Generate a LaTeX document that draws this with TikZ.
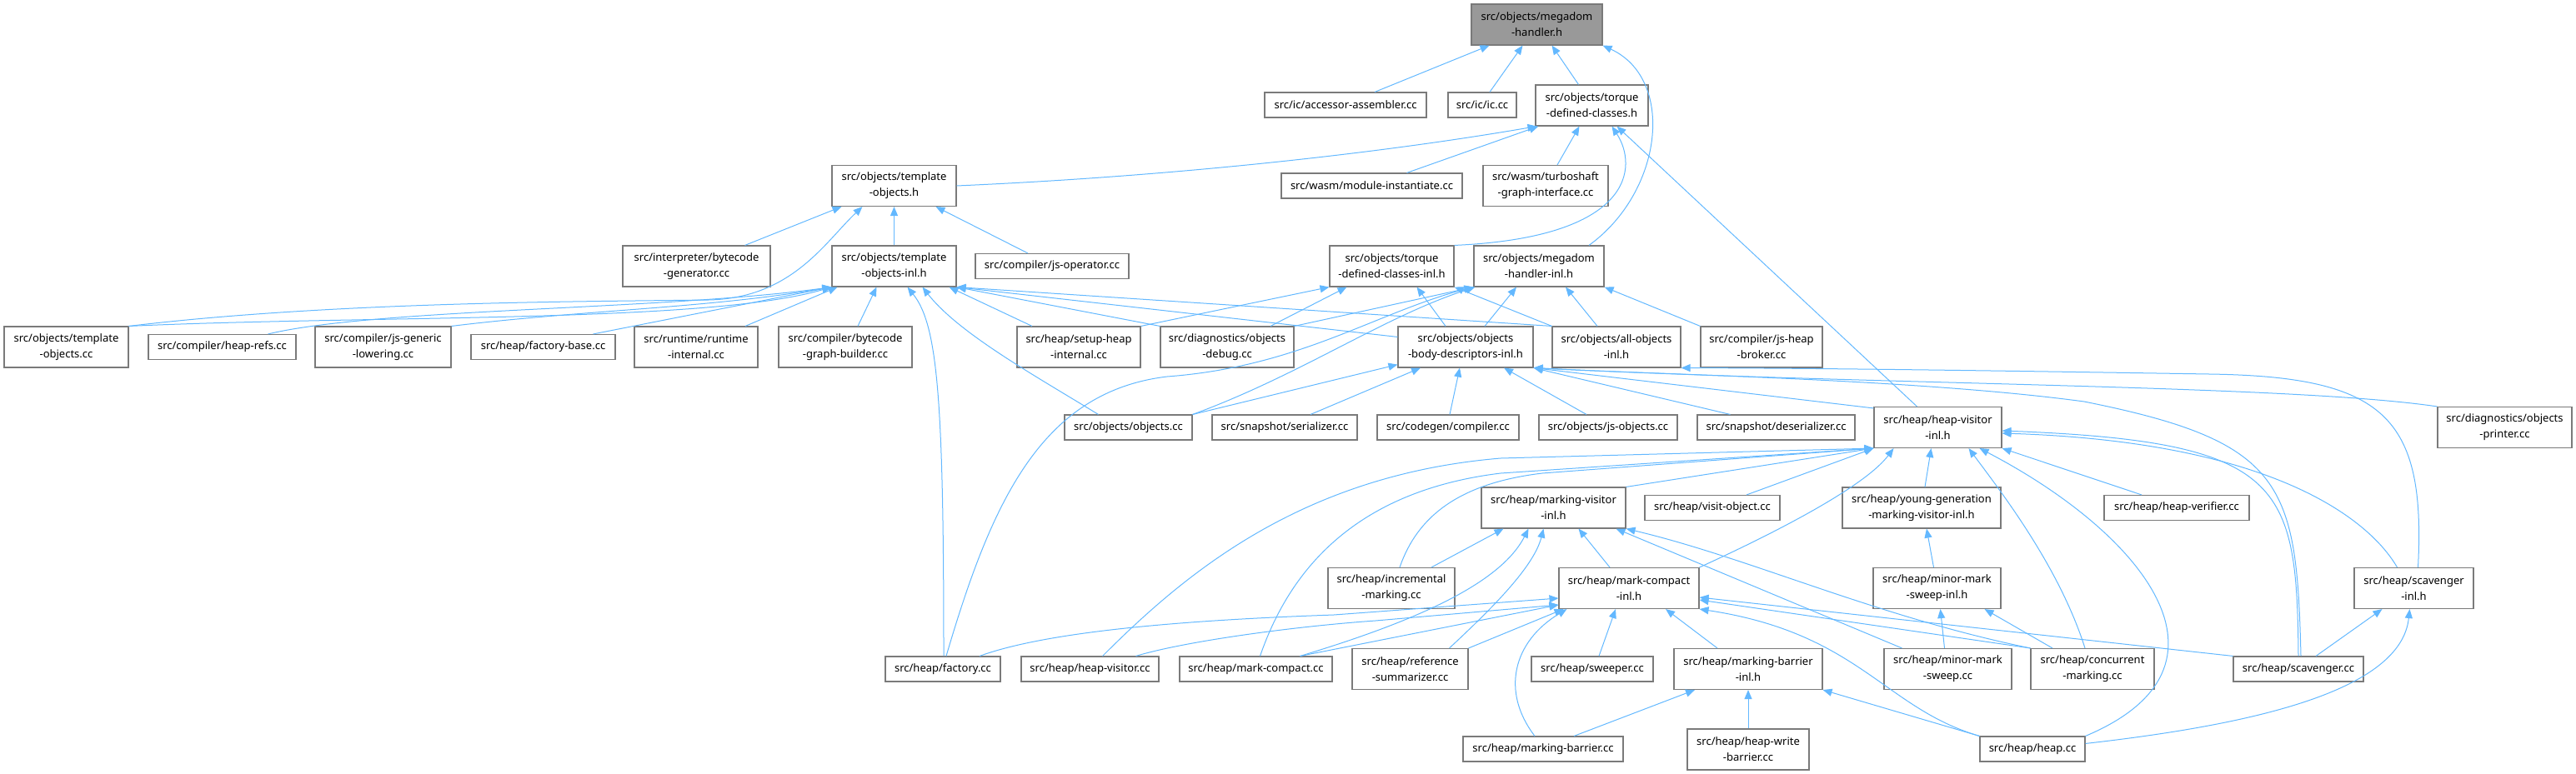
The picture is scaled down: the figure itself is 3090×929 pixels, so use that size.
\documentclass[tikz,border=0pt]{standalone}
\usepackage{fontspec}
\setmainfont{Noto Sans}
\usepackage{xcolor}
\usetikzlibrary{arrows.meta}

\definecolor{edgeblue}{HTML}{63B8FF}
\definecolor{boxgray}{HTML}{7A7A7A}
\definecolor{rootgray}{HTML}{999999}

\begin{document}
\begin{tikzpicture}[
    x=1pt, y=-1pt,
    font=\fontsize{13}{19}\selectfont,
    file/.style={rectangle, draw=boxgray, line width=1.1pt, fill=white, inner sep=0pt, align=center, minimum height=30pt},
    twoline/.style={minimum height=49pt},
    wd/.style={minimum width=#1pt},
    rootfile/.style={file, twoline, fill=rootgray},
    incl/.style={-{Triangle[length=11pt, width=9pt]}, draw=edgeblue, line width=1pt}
]
    \useasboundingbox (0,0) rectangle (3090,929);

    % Nodes
    \node[rootfile, wd=157] (mh) at (1843.5,29.5) {src/objects/megadom\\-handler.h};

    \node[file, wd=194] (aa) at (1614,126) {src/ic/accessor-assembler.cc};
    \node[file, wd=82] (ic) at (1778,126) {src/ic/ic.cc};
    \node[file, twoline, wd=135] (tdc) at (1909.5,126.5) {src/objects/torque\\-defined-classes.h};

    \node[file, twoline, wd=149] (toh) at (1072.5,223) {src/objects/template\\-objects.h};
    \node[file, wd=217] (mi) at (1645.5,223) {src/wasm/module-instantiate.cc};
    \node[file, twoline, wd=150] (tgi) at (1854,223) {src/wasm/turboshaft\\-graph-interface.cc};

    \node[file, twoline, wd=177] (bg) at (835.5,319.5) {src/interpreter/bytecode\\-generator.cc};
    \node[file, twoline, wd=149] (toi) at (1072.5,319.5) {src/objects/template\\-objects-inl.h};
    \node[file, wd=184] (jso) at (1262,319.5) {src/compiler/js-operator.cc};
    \node[file, twoline, wd=149] (tdci) at (1669.5,319.5) {src/objects/torque\\-defined-classes-inl.h};
    \node[file, twoline, wd=156] (mhi) at (1846,319.5) {src/objects/megadom\\-handler-inl.h};

    \node[file, twoline, wd=149] (toc) at (79.5,416.5) {src/objects/template\\-objects.cc};
    \node[file, wd=177] (hr) at (266.5,416.5) {src/compiler/heap-refs.cc};
    \node[file, twoline, wd=163] (jgl) at (459.5,416.5) {src/compiler/js-generic\\-lowering.cc};
    \node[file, wd=173] (fb) at (651.5,416.5) {src/heap/factory-base.cc};
    \node[file, twoline, wd=148] (ri) at (835,416.5) {src/runtime/runtime\\-internal.cc};
    \node[file, twoline, wd=160] (bgb) at (1014,416.5) {src/compiler/bytecode\\-graph-builder.cc};
    \node[file, twoline, wd=148] (shi) at (1294,416.5) {src/heap/setup-heap\\-internal.cc};
    \node[file, twoline, wd=160] (od) at (1472,416.5) {src/diagnostics/objects\\-debug.cc};
    \node[file, twoline, wd=162] (obd) at (1758,416.5) {src/objects/objects\\-body-descriptors-inl.h};
    \node[file, twoline, wd=154] (aoi) at (1939,416.5) {src/objects/all-objects\\-inl.h};
    \node[file, twoline, wd=146] (jhb) at (2113,416.5) {src/compiler/js-heap\\-broker.cc};

    \node[file, wd=153] (oc) at (1353.5,513) {src/objects/objects.cc};
    \node[file, wd=174] (ser) at (1541,513) {src/snapshot/serializer.cc};
    \node[file, wd=170] (cc) at (1737,513) {src/codegen/compiler.cc};
    \node[file, wd=166] (jo) at (1929,513) {src/objects/js-objects.cc};
    \node[file, wd=189] (des) at (2130.5,513) {src/snapshot/deserializer.cc};
    \node[file, twoline, wd=153] (hvi) at (2324.5,513) {src/heap/heap-visitor\\-inl.h};
    \node[file, twoline, wd=161] (op) at (3004.5,513) {src/diagnostics/objects\\-printer.cc};

    \node[file, twoline, wd=173] (mvi) at (1863.5,609.5) {src/heap/marking-visitor\\-inl.h};
    \node[file, wd=162] (vo) at (2054,609.5) {src/heap/visit-object.cc};
    \node[file, twoline, wd=190] (ygm) at (2305,609.5) {src/heap/young-generation\\-marking-visitor-inl.h};
    \node[file, wd=174] (hv) at (2611,609.5) {src/heap/heap-verifier.cc};

    \node[file, twoline, wd=152] (im) at (1669,706) {src/heap/incremental\\-marking.cc};
    \node[file, twoline, wd=168] (mci) at (1954,706) {src/heap/mark-compact\\-inl.h};
    \node[file, twoline, wd=153] (mmsi) at (2323.5,706) {src/heap/minor-mark\\-sweep-inl.h};
    \node[file, twoline, wd=143] (si) at (2895.5,706) {src/heap/scavenger\\-inl.h};

    \node[file, wd=138] (fac) at (1131,803) {src/heap/factory.cc};
    \node[file, wd=165] (hvc) at (1307.5,803) {src/heap/heap-visitor.cc};
    \node[file, wd=183] (mc) at (1506.5,803) {src/heap/mark-compact.cc};
    \node[file, twoline, wd=139] (rs) at (1691.5,803) {src/heap/reference\\-summarizer.cc};
    \node[file, wd=146] (sw) at (1910,803) {src/heap/sweeper.cc};
    \node[file, twoline, wd=178] (mbi) at (2097,803) {src/heap/marking-barrier\\-inl.h};
    \node[file, twoline, wd=153] (mms) at (2336.5,803) {src/heap/minor-mark\\-sweep.cc};
    \node[file, twoline, wd=148] (cm) at (2510,803) {src/heap/concurrent\\-marking.cc};
    \node[file, wd=156] (sc) at (2757,803) {src/heap/scavenger.cc};

    \node[file, wd=192] (mb) at (1851,899) {src/heap/marking-barrier.cc};
    \node[file, twoline, wd=146] (hwb) at (2097,899.5) {src/heap/heap-write\\-barrier.cc};
    \node[file, wd=126] (hp) at (2438,899) {src/heap/heap.cc};

    % Arrows into megadom-handler.h
    \draw[incl] ([xshift=35pt]aa.north) -- ([xshift=-57pt]mh.south);
    \draw[incl] ([xshift=9pt]ic.north) -- ([xshift=-17pt]mh.south);
    \draw[incl] ([xshift=-16pt]tdc.north) -- ([xshift=18pt]mh.south);
    \draw[incl] ([xshift=60pt]mhi.north) .. controls (1995,230) and (2010,95) .. (mh.south east);

    % Arrows into torque-defined-classes.h
    \draw[incl] (toh.east) .. controls (1400,212) and (1650,185) .. ([xshift=2pt]tdc.south west);
    \draw[incl] ([xshift=42pt]mi.north) -- ([xshift=4pt]tdc.south west);
    \draw[incl] ([xshift=14pt]tgi.north) -- ([xshift=-15pt]tdc.south);
    \draw[incl] (tdci.north east) .. controls (1960,285) and (1965,200) .. ([xshift=24pt]tdc.south);
    \draw[incl] ([xshift=-25pt]hvi.north) -- ([xshift=30pt]tdc.south);

    % Arrows into template-objects.h
    \draw[incl] ([xshift=58pt]bg.north) -- ([xshift=-63pt]toh.south);
    \draw[incl] (toi) -- (toh);
    \draw[incl] ([xshift=-29pt]jso.north) -- ([xshift=50pt]toh.south);
    \draw[incl] (toc.north east) .. controls (400,362) and (700,362) .. (850,360) .. controls (950,358) and (990,290) .. ([xshift=-38pt]toh.south);

    % Arrows into template-objects-inl.h
    \draw[incl] (toc.north east) .. controls (450,378) and (850,388) .. (toi.south west);
    \draw[incl] ([xshift=55pt]hr.north) .. controls (450,370) and (800,372) .. (toi.south west);
    \draw[incl] (jgl.north east) .. controls (700,372) and (850,370) .. (toi.south west);
    \draw[incl] ([xshift=60pt]fb.north) -- (toi.south west);
    \draw[incl] ([xshift=59pt]ri.north) -- ([xshift=-68pt]toi.south);
    \draw[incl] ([xshift=15pt]bgb.north) -- ([xshift=-21pt]toi.south);
    \draw[incl] ([xshift=1pt]fac.north) .. controls (1132,480) and (1125,390) .. ([xshift=16pt]toi.south);
    \draw[incl] ([xshift=-36pt]oc.north) .. controls (1240,450) and (1150,400) .. ([xshift=34pt]toi.south);
    \draw[incl] ([xshift=-56pt]shi.north) -- ([xshift=66pt]toi.south);
    \draw[incl] (od.north west) -- (toi.south east);
    \draw[incl] (aoi.north west) -- (toi.south east);
    \draw[incl] ([yshift=-13pt]obd.north west) -- (toi.south east);

    % Arrows into torque-defined-classes-inl.h
    \draw[incl] (shi.north east) -- (tdci.south west);
    \draw[incl] ([xshift=52pt]od.north) -- ([xshift=-54pt]tdci.south);
    \draw[incl] ([xshift=-24pt]obd.north) -- ([xshift=30pt]tdci.south);
    \draw[incl] (aoi.north west) -- (tdci.south east);

    % Arrows into megadom-handler-inl.h
    \draw[incl] (od.north east) -- (mhi.south west);
    \draw[incl] (oc.north east) .. controls (1560,450) and (1660,380) .. ([xshift=2pt]mhi.south west);
    \draw[incl] ([xshift=4pt]fac.north) .. controls (1190,600) and (1250,470) .. (1400,452) .. controls (1560,440) and (1650,375) .. (mhi.south west);
    \draw[incl] ([xshift=23pt]obd.north) -- ([xshift=-27pt]mhi.south);
    \draw[incl] ([xshift=-23pt]aoi.north) -- ([xshift=32pt]mhi.south);
    \draw[incl] (jhb.north west) -- (mhi.south east);

    % Arrows into objects-body-descriptors-inl.h
    \draw[incl] (oc.north east) -- ([yshift=4pt]obd.south west);
    \draw[incl] ([xshift=31pt]ser.north) -- ([xshift=-54pt]obd.south);
    \draw[incl] ([xshift=2pt]cc.north) -- ([xshift=-7pt]obd.south);
    \draw[incl] ([xshift=-26pt]jo.north) -- ([xshift=46pt]obd.south);
    \draw[incl] ([xshift=-55pt]des.north) -- (obd.south east);
    \draw[incl] ([yshift=-2pt]hvi.north west) -- (obd.south east);
    \draw[incl] (op.north west) .. controls (2750,462) and (2250,462) .. (obd.south east);
    \draw[incl] ([xshift=3pt]sc.north) .. controls (2755,580) and (2740,530) .. (2500,482) .. controls (2300,455) and (2000,450) .. (obd.south east);

    % Arrow into all-objects-inl.h
    \draw[incl] ([xshift=5pt]si.north) .. controls (2910,500) and (2860,452) .. (2650,449) .. controls (2400,445) and (2200,442) .. (aoi.south east);

    % Arrows into heap-visitor-inl.h
    \draw[incl] (mvi.north east) -- (hvi.south west);
    \draw[incl] ([xshift=41pt]vo.north) -- (hvi.south west);
    \draw[incl] ([xshift=4pt]ygm.north) -- ([xshift=-8pt]hvi.south);
    \draw[incl] (mci.north east) .. controls (2150,630) and (2240,580) .. ([xshift=-53pt]hvi.south);
    \draw[incl] ([xshift=-42pt]hv.north) -- (hvi.south east);
    \draw[incl] ([xshift=-9pt]cm.north) .. controls (2470,680) and (2400,590) .. ([xshift=37pt]hvi.south);
    \draw[incl] (hp.north east) .. controls (2700,800) and (2570,640) .. ([xshift=50pt]hvi.south);
    \draw[incl] (sc.north) .. controls (2755,580) and (2740,530) .. ([yshift=-4pt]hvi.east);
    \draw[incl] ([xshift=-20pt]si.north) .. controls (2840,620) and (2720,530) .. ([yshift=-7pt]hvi.east);
    \draw[incl] ([xshift=15pt]hvc.north) .. controls (1420,690) and (1560,570) .. (1800,550) -- (hvi.south west);
    \draw[incl] ([xshift=5pt]mc.north) .. controls (1545,690) and (1620,590) .. (1800,568) -- (hvi.south west);
    \draw[incl] ([xshift=10pt]im.north) .. controls (1700,620) and (1750,580) .. (1850,568) -- (hvi.south west);

    % Arrows into marking-visitor-inl.h
    \draw[incl] ([xshift=48pt]im.north) -- ([xshift=-60pt]mvi.south);
    \draw[incl] ([xshift=53pt]mc.north) .. controls (1700,745) and (1800,700) .. ([xshift=-30pt]mvi.south);
    \draw[incl] ([xshift=47pt]rs.north) .. controls (1790,730) and (1840,680) .. ([xshift=-12pt]mvi.south);
    \draw[incl] ([xshift=-23pt]mci.north) -- ([xshift=30pt]mvi.south);
    \draw[incl] ([xshift=-55pt]mms.north) -- ([xshift=75pt]mvi.south);
    \draw[incl] (cm.north west) .. controls (2250,740) and (2100,670) .. (mvi.south east);

    % Arrows into young-generation-marking-visitor-inl.h and minor-mark-sweep-inl.h
    \draw[incl] ([xshift=-4pt]mmsi.north) -- ([xshift=6pt]ygm.south);
    \draw[incl] ([xshift=-4pt]mms.north) -- ([xshift=4pt]mmsi.south);
    \draw[incl] ([xshift=-48pt]cm.north) -- ([xshift=57pt]mmsi.south);

    % Arrows into mark-compact-inl.h
    \draw[incl] ([xshift=44pt]fac.north) .. controls (1250,760) and (1400,745) .. (1600,738) -- ([yshift=-12pt]mci.west);
    \draw[incl] ([xshift=55pt]hvc.north) .. controls (1420,770) and (1550,752) .. (1650,745) -- ([yshift=-20pt]mci.west);
    \draw[incl] ([xshift=53pt]mc.north) -- ([yshift=-20pt]mci.west);
    \draw[incl] (rs.north east) -- ([xshift=6pt]mci.south west);
    \draw[incl] ([xshift=-10pt]mb.north) .. controls (1800,830) and (1815,770) .. ([xshift=10pt]mci.south west);
    \draw[incl] ([xshift=8pt]sw.north) -- ([xshift=-16pt]mci.south);
    \draw[incl] ([xshift=-37pt]mbi.north) -- ([xshift=44pt]mci.south);
    \draw[incl] (sc.north west) -- ([yshift=-11pt]mci.east);
    \draw[incl] (cm.north west) -- ([yshift=-14pt]mci.east);
    \draw[incl] (hp.north west) .. controls (2260,850) and (2230,760) .. (mci.south east);

    % Arrows into marking-barrier-inl.h
    \draw[incl] ([xshift=37pt]mb.north) -- ([xshift=-64pt]mbi.south);
    \draw[incl] (hwb) -- (mbi);
    \draw[incl] (hp.north west) -- (mbi.south east);

    % Arrows into scavenger-inl.h
    \draw[incl] ([xshift=21pt]sc.north) -- ([xshift=-38pt]si.south);
    \draw[incl] ([yshift=-9pt]hp.north east) .. controls (2700,870) and (2880,830) .. ([xshift=-5pt]si.south);

\end{tikzpicture}
\end{document}
